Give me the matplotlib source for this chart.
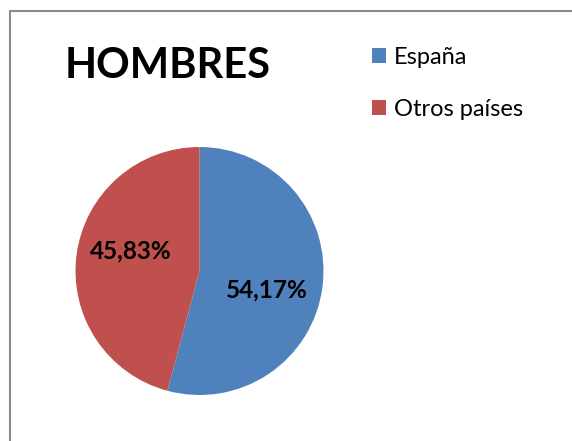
import matplotlib
matplotlib.use('Agg')
import matplotlib.pyplot as plt
from matplotlib.patches import Rectangle

plt.rcParams['font.family'] = ['Lato', 'DejaVu Sans']

categories = ['España', 'Otros países']
values = [54.17, 45.83]
labels = ['54,17%', '45,83%']
colors = ['#4F81BD', '#C0504D']
title = 'HOMBRES'

fig = plt.figure(figsize=(5.72, 4.41), dpi=100)

# frame of the chart area (cut off at right and bottom)
top = 1 - 11 / 441
fig.patches.append(Rectangle((10 / 572, -0.2), 1.2, top + 0.2,
                             transform=fig.transFigure, fill=False,
                             edgecolor='#8a8a8a', linewidth=1.5))

ax = fig.add_axes([75.5 / 572, 46 / 441, 248 / 572, 248 / 441])
wedges, _ = ax.pie(values, colors=colors, startangle=90, counterclock=False,
                   radius=1)
ax.set_xlim(-1, 1)
ax.set_ylim(-1, 1)
ax.set_aspect('equal')
ax.axis('off')

# data labels, placed like Excel's best fit
label_pos = [(0.545, -0.155), (-0.552, 0.162)]
for (x, y), txt in zip(label_pos, labels):
    ax.text(x, y, txt, ha='center', va='center', fontsize=17.5,
            fontweight='bold', color='black')

fig.text(65 / 572, 1 - 78 / 441, title, fontsize=30, fontweight='bold',
         ha='left', va='baseline')

fig.legend(wedges, categories, loc='upper left',
           bbox_to_anchor=(351 / 572, 1 - 26 / 441), frameon=False,
           fontsize=17, handlelength=0.6, handleheight=0.6,
           handletextpad=0.3, labelspacing=1.3)

fig.savefig('out.png', dpi=100)
